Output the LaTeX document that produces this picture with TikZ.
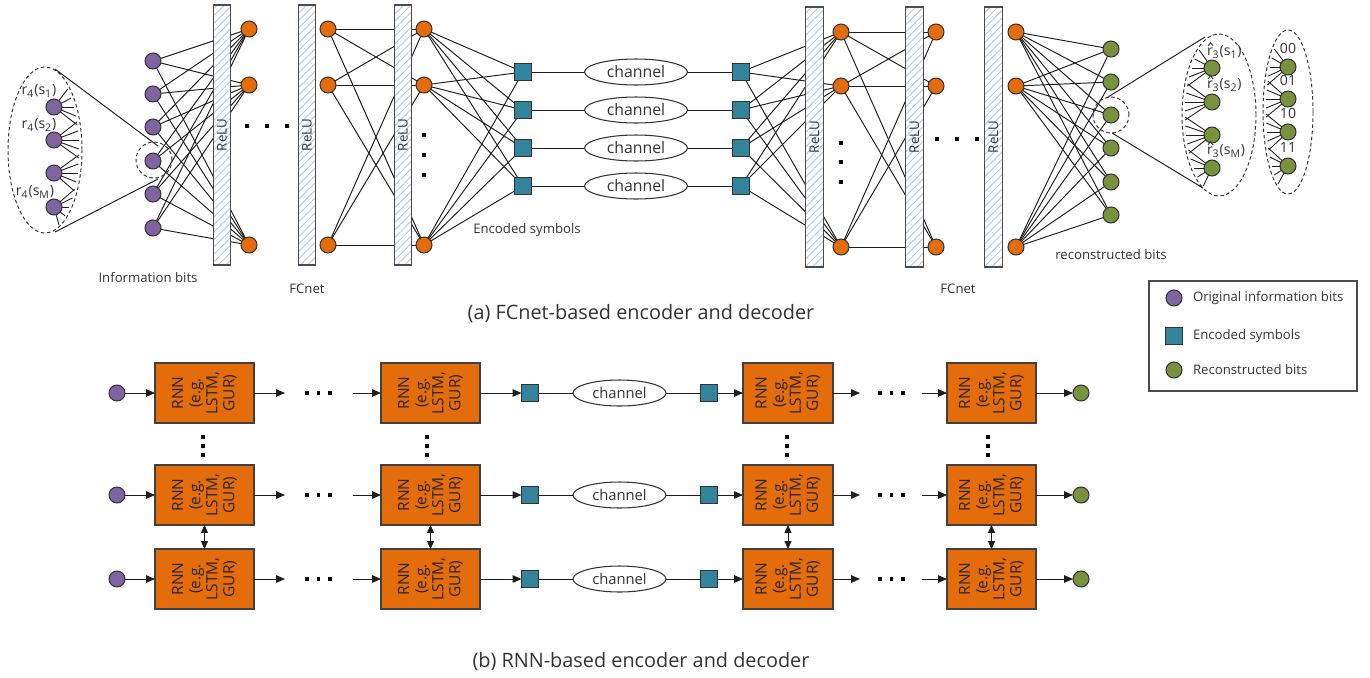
\documentclass[tikz,border=0pt]{standalone}
\usepackage{fontspec}
\setmainfont{Open Sans}
\usetikzlibrary{shapes.geometric,patterns.meta,arrows.meta,backgrounds}
\definecolor{cpurple}{HTML}{8064A2}
\definecolor{corange}{HTML}{E46C0A}
\definecolor{cteal}{HTML}{31849B}
\definecolor{cgreen}{HTML}{77933C}
\definecolor{chatch}{HTML}{B4C8E4}
\definecolor{cline}{HTML}{1E1E1E}
\definecolor{ctext}{HTML}{333333}
\begin{document}
\begin{tikzpicture}[x=0.02cm,y=-0.02cm,
  every node/.style={inner sep=0pt, outer sep=0pt},
  conn/.style={draw=cline, line width=0.55pt},
  arr/.style={conn, -{Triangle[length=5pt,width=4.2pt]}},
  darr/.style={conn, {Triangle[length=4.5pt,width=4pt]}-{Triangle[length=4.5pt,width=4pt]}},
  nd/.style={circle, draw=black!80, line width=0.6pt, minimum size=0.32cm},
  pn/.style={nd, fill=cpurple},
  onode/.style={nd, fill=corange},
  gn/.style={nd, fill=cgreen},
  sq/.style={rectangle, draw=black!80, line width=0.6pt, fill=cteal, minimum size=0.33cm},
  relubar/.style={rectangle, draw=black!70, line width=0.7pt, minimum width=0.35cm, minimum height=5.2cm,
    preaction={fill=white}, pattern={Lines[angle=45,distance=3pt,line width=0.5pt]}, pattern color=chatch},
  relu/.style={rotate=90, font=\fontsize{7.6}{8}\selectfont, text=ctext},
  chan/.style={ellipse, draw=black!80, line width=0.6pt, minimum width=2.06cm, minimum height=0.52cm, font=\fontsize{9}{10}\selectfont, text=ctext},
  chanb/.style={ellipse, draw=black!80, line width=0.6pt, minimum width=1.86cm, minimum height=0.52cm, font=\fontsize{8.4}{10}\selectfont, text=ctext},
  lab/.style={font=\fontsize{7.5}{9}\selectfont, text=ctext},
  smlab/.style={font=\fontsize{8}{9}\selectfont, text=ctext},
  captxt/.style={font=\fontsize{11.3}{13}\selectfont, text=ctext},
  hatmark/.style={draw=ctext, line width=0.5pt},
  dsq/.style={rectangle, fill=black, minimum size=0.085cm},
  dsqs/.style={rectangle, fill=black, minimum size=0.07cm},
  dashell/.style={ellipse, draw=black!80, line width=0.55pt, dash pattern=on 2pt off 1.5pt},
  dashcirc/.style={circle, draw=black!80, line width=0.55pt, dash pattern=on 2pt off 1.5pt, minimum size=0.72cm},
  rnn/.style={rectangle, fill=corange, draw=black!75, line width=0.7pt, minimum height=1.2cm},
  rnntxt/.style={rotate=90, align=center, font=\fontsize{8.8}{9.7}\selectfont, text=black!85}
]
\useasboundingbox (0,0) rectangle (1370,677);

% ---------------- (a) encoder ----------------
\foreach \i/\y in {1/61,2/94,3/127,4/161,5/194,6/228} \node[pn] (P\i) at (153,\y) {};
\node[relubar] (B1) at (222,135) {};
\node[relubar] (B2) at (307,135) {};
\node[relubar] (B3) at (403,135) {};
\foreach \n in {1,2,3} \node[relu] (RL\n) at (B\n) {ReLU};
\foreach \i/\y in {1/29,2/85,3/245} {
  \node[onode] (A\i) at (249,\y) {};
  \node[onode] (C\i) at (328,\y) {};
  \node[onode] (E\i) at (424,\y) {};
}
\foreach \i/\y in {1/72,2/110,3/148,4/186} {
  \node[sq] (S\i) at (523,\y) {};
  \node[chan] (CH\i) at (636,\y) {channel};
  \node[sq] (T\i) at (741,\y) {};
}
% ---------------- (a) decoder ----------------
\node[relubar] (B4) at (814.5,137) {};
\node[relubar] (B5) at (914.5,137) {};
\node[relubar] (B6) at (993.5,137) {};
\foreach \n in {4,5,6} \node[relu] (RL\n) at (B\n) {ReLU};
\foreach \i/\y in {1/32,2/86,3/247} {
  \node[onode] (F\i) at (841,\y) {};
  \node[onode] (G\i) at (936,\y) {};
  \node[onode] (H\i) at (1016,\y) {};
}
\foreach \i/\y in {1/49,2/82,3/115,4/148,5/182,6/215} \node[gn] (R\i) at (1111,\y) {};

% connections
\begin{scope}[on background layer]
\foreach \i in {1,...,6} \foreach \j in {1,2,3} \draw[conn] (P\i) -- (A\j);
\foreach \i in {1,2,3} \foreach \j in {1,2,3} \draw[conn] (C\i) -- (E\j);
\foreach \i in {1,2,3} \foreach \j in {1,...,4} \draw[conn] (E\i) -- (S\j);
\foreach \i in {1,...,4} \draw[conn] (S\i) -- (CH\i) (CH\i) -- (T\i);
\foreach \i in {1,...,4} \foreach \j in {1,2,3} \draw[conn] (T\i) -- (F\j);
\foreach \i in {1,2,3} \foreach \j in {1,2,3} \draw[conn] (F\i) -- (G\j);
\foreach \i in {1,2,3} \foreach \j in {1,...,6} \draw[conn] (H\i) -- (R\j);
\end{scope}

% dots
\foreach \x [count=\k] in {247,267,287} \node[dsq] (HDa\k) at (\x,126) {};
\foreach \x [count=\k] in {937,957,977} \node[dsq] (HDb\k) at (\x,139) {};
\foreach \y [count=\k] in {135,155,175} \node[dsq] (VDa\k) at (424,\y) {};
\foreach \y [count=\k] in {143,162,182} \node[dsq] (VDb\k) at (841,\y) {};

% left zoom ellipse
\node[dashell, minimum width=1.48cm, minimum height=3.32cm] (LE) at (45,150) {};
\foreach \i/\y in {1/107,2/140,3/173,4/207} {
  \node[pn] (Q\i) at (54,\y) {};
  \foreach \d [count=\k] in {-18,-9,0,9,18} {
    \pgfmathsetmacro{\yy}{\y+\d}
    \pgfmathsetmacro{\xx}{45+35*sqrt(max(0,1-((\yy-150)/83)^2))-1}
    \coordinate (LF\i\k) at (\xx,\yy);
    \draw[conn, line width=0.5pt] (Q\i) -- (LF\i\k);
  }
}
\node[smlab] (QL1) at (39,91) {r\textsubscript{4}(s\textsubscript{1})};
\node[smlab] (QL2) at (39,125) {r\textsubscript{4}(s\textsubscript{2})};
\node[smlab] (QL3) at (35,192) {r\textsubscript{4}(s\textsubscript{M})};
\node[dashcirc] (DC1) at (154,160) {};
\coordinate (LT1) at (55,69);  \coordinate (LT2) at (158,146);
\coordinate (LB1) at (55,232); \coordinate (LB2) at (158,179);
\draw[conn] (LT1) -- (LT2);
\draw[conn] (LB1) -- (LB2);

% right zoom ellipses
\node[dashell, minimum width=1.48cm, minimum height=3.24cm] (RE1) at (1219,115) {};
\foreach \i/\y in {1/68,2/102,3/135,4/168} {
  \node[gn] (V\i) at (1212,\y) {};
  \foreach \d [count=\k] in {-18,-9,0,9,18} {
    \pgfmathsetmacro{\yy}{\y+\d}
    \pgfmathsetmacro{\xx}{1219-35*sqrt(max(0,1-((\yy-115)/81)^2))+1}
    \coordinate (RF\i\k) at (\xx,\yy);
    \draw[conn, line width=0.5pt] (V\i) -- (RF\i\k);
  }
}
\foreach \n/\y/\s in {1/52/1,2/85/2,3/151/M} {
  \node[smlab, anchor=west] (VL\n) at (1207,\y) {r\textsubscript{3}(s\textsubscript{\s})};
  \coordinate (HA\n) at (1208,\y-6);
  \coordinate (HB\n) at (1210.5,\y-9.5);
  \coordinate (HC\n) at (1213,\y-6);
  \draw[hatmark] (HA\n) -- (HB\n) -- (HC\n);
}
\node[dashell, minimum width=1.0cm, minimum height=3.28cm] (RE2) at (1288,112) {};
\foreach \i/\y/\t in {1/67/00,2/99/01,3/132/10,4/166/11} {
  \node[gn] (W\i) at (1288,\y) {};
  \node[smlab] (WL\i) at (1288,\y-19) {\t};
  \foreach \d [count=\k] in {-18,-9,0,9,18} {
    \pgfmathsetmacro{\yy}{\y+\d}
    \pgfmathsetmacro{\xx}{1288-23*sqrt(max(0,1-((\yy-112)/82)^2))+1}
    \coordinate (WF\i\k) at (\xx,\yy);
    \draw[conn, line width=0.5pt] (W\i) -- (WF\i\k);
  }
}
\node[dashcirc] (DC2) at (1111,115) {};
\coordinate (RT1) at (1108,97);  \coordinate (RT2) at (1205,37);
\coordinate (RB1) at (1112,133); \coordinate (RB2) at (1203,188);
\draw[conn] (RT1) -- (RT2);
\draw[conn] (RB1) -- (RB2);

% labels (a)
\node[lab] (L1) at (148,278) {Information bits};
\node[lab] (L2) at (307,289) {FCnet};
\node[lab] (L3) at (527,230) {Encoded symbols};
\node[lab] (L4) at (958,289) {FCnet};
\node[lab] (L5) at (1111,255) {reconstructed bits};
\node[captxt] (CA) at (641,314) {(a) FCnet-based encoder and decoder};

% legend
\node[draw=black!70, line width=0.7pt, minimum width=4.16cm, minimum height=2.2cm] (LEG) at (1253,336) {};
\node[pn] (LGP) at (1174,298) {};
\node[sq] (LGS) at (1174,336) {};
\node[gn] (LGG) at (1174,370) {};
\node[lab, anchor=west] (LGPt) at (1193,298) {Original information bits};
\node[lab, anchor=west] (LGSt) at (1193,336) {Encoded symbols};
\node[lab, anchor=west] (LGGt) at (1193,370) {Reconstructed bits};

% ---------------- (b) RNN ----------------
\foreach \r/\y in {1/393,2/495,3/579} {
  \node[pn] (IP\r) at (117,\y) {};
  \node[rnn, minimum width=1.98cm] (K\r a) at (204.5,\y) {};
  \node[rnn, minimum width=1.98cm] (K\r b) at (430.5,\y) {};
  \node[rnn, minimum width=1.8cm] (K\r c) at (788,\y) {};
  \node[rnn, minimum width=1.78cm] (K\r d) at (991.5,\y) {};
  \foreach \c in {a,b,c,d} \node[rnntxt] (KT\r\c) at (K\r\c) {RNN\\(e.g.\\LSTM,\\GUR)};
  \node[sq, minimum size=0.34cm] (SQ\r) at (530,\y) {};
  \node[chanb] (CB\r) at (619.5,\y) {channel};
  \node[sq, minimum size=0.34cm] (SR\r) at (709,\y) {};
  \node[gn] (GO\r) at (1081,\y) {};
  \coordinate (XA\r) at (285,\y);
  \coordinate (XB\r) at (353,\y);
  \coordinate (XC\r) at (860,\y);
  \coordinate (XD\r) at (922,\y);
  \draw[arr] (IP\r) -- (K\r a);
  \draw[arr] (K\r a) -- (XA\r);
  \draw[arr] (XB\r) -- (K\r b);
  \draw[arr] (K\r b) -- (SQ\r);
  \draw[conn] (SQ\r) -- (CB\r);
  \draw[conn] (CB\r) -- (SR\r);
  \draw[arr] (SR\r) -- (K\r c);
  \draw[arr] (K\r c) -- (XC\r);
  \draw[arr] (XD\r) -- (K\r d);
  \draw[arr] (K\r d) -- (GO\r);
  \foreach \x [count=\k] in {307,318.5,330} \node[dsqs] (RDa\r\k) at (\x,\y) {};
  \foreach \x [count=\k] in {880,891.5,903} \node[dsqs] (RDb\r\k) at (\x,\y) {};
}
\foreach \x/\c in {203/a,427/b,787/c,988/d} {
  \foreach \yy [count=\k] in {437,446,455} \node[dsqs] (VR\c\k) at (\x,\yy) {};
  \draw[darr] (K2\c.south) -- (K3\c.north);
}
\node[captxt] (CBt) at (641,662) {(b) RNN-based encoder and decoder};
\end{tikzpicture}
\end{document}
